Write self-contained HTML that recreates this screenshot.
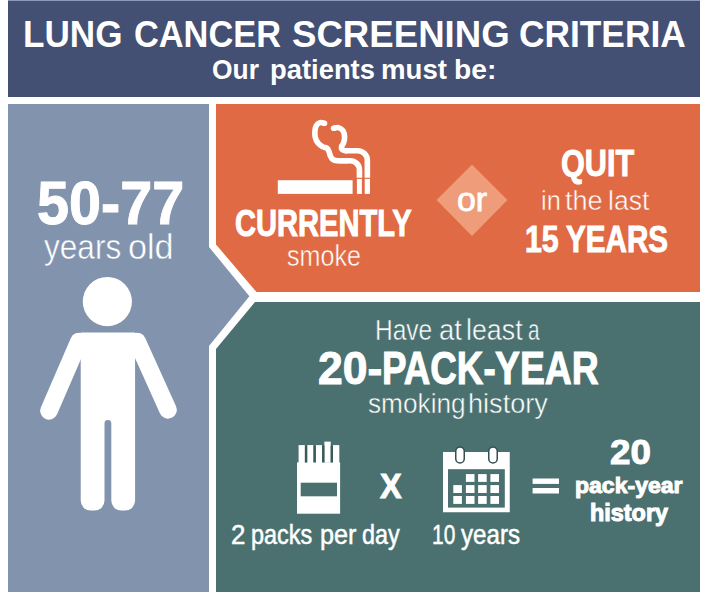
<!DOCTYPE html>
<html><head><meta charset="utf-8">
<style>
html,body{margin:0;padding:0;background:#fff;}
body{width:706px;height:600px;position:relative;overflow:hidden;font-family:"Liberation Sans",sans-serif;}
svg.bg{position:absolute;left:0;top:0;}
.t{position:absolute;white-space:nowrap;line-height:1;color:#fff;transform-origin:0 0;}
.b{font-weight:700;}
</style></head><body>
<svg class="bg" width="706" height="600" viewBox="0 0 706 600">
  <rect x="8" y="0" width="692" height="97" fill="#434f73"/>
  <rect x="8" y="0" width="692" height="1" fill="#8f98bb"/>
  <polygon points="8,104 209,104 209,247 249.4,296.3 209,346 209,592 8,592" fill="#8193ad"/>
  <polygon points="216,104 700,104 700,292 256.5,292 216,244.5" fill="#e06a43"/>
  <polygon points="255,302 700,302 700,592 216,592 216,349" fill="#4a7170"/>
  <!-- diamond -->
  <polygon points="472,164.5 507.5,200 472,236 436.5,200" fill="#ee9c7a"/>
  <!-- person -->
  <g fill="#fff">
    <circle cx="107.35" cy="301.55" r="24.6"/>
    <path d="M80.7,332.5 H135.1 V500.6 a10,10 0 0 1 -10,10 H121.3 a10,10 0 0 1 -10,-10 V423.4 a3.4,3.4 0 0 0 -6.8,0 V500.6 a10,10 0 0 1 -10,10 H90.7 a10,10 0 0 1 -10,-10 Z"/>
  </g>
  <g stroke="#fff" stroke-width="17.6" stroke-linecap="round" fill="none">
    <line x1="78.95" y1="341.5" x2="49" y2="410.8"/>
    <line x1="137.2" y1="341.5" x2="168" y2="409.8"/>
  </g>
  <!-- cigarette -->
  <g fill="#fff">
    <rect x="277.8" y="180.2" width="74.8" height="13.7"/>
    <rect x="356.9" y="178.9" width="5" height="15"/>
    <rect x="364.7" y="178.9" width="5.3" height="15"/>
  </g>
  <g stroke="#fff" stroke-width="5.6" fill="none" stroke-linecap="butt">
    <path d="M324.50,123.30 C323.75,123.18 321.37,122.22 320.00,122.60 C318.63,122.98 317.15,124.20 316.30,125.60 C315.45,127.00 315.07,129.02 314.90,131.00 C314.73,132.98 314.78,135.50 315.30,137.50 C315.82,139.50 316.80,141.48 318.00,143.00 C319.20,144.52 321.00,145.72 322.50,146.60 C324.00,147.48 325.92,147.48 327.00,148.30 C328.08,149.12 328.47,150.30 329.00,151.50 C329.53,152.70 329.62,154.22 330.20,155.50 C330.78,156.78 331.37,158.32 332.50,159.20 C333.63,160.08 334.08,160.53 337.00,160.80 C339.92,161.07 347.83,160.80 350.00,160.80 C355.3,160.8 359.45,164.6 359.45,170 L359.45,177.8"/>
    <path d="M333.60,128.20 C334.42,128.10 336.93,127.17 338.50,127.60 C340.07,128.03 341.98,129.23 343.00,130.80 C344.02,132.37 344.50,135.00 344.60,137.00 C344.70,139.00 344.10,141.25 343.60,142.80 C343.10,144.35 341.87,145.22 341.60,146.30 C341.33,147.38 341.35,148.55 342.00,149.30 C342.65,150.05 344.50,150.55 345.50,150.80 C346.50,151.05 346.00,150.80 348.00,150.80 C350.00,150.80 355.92,150.80 357.50,150.80 C363,150.8 367.35,155 367.35,160.5 L367.35,177.8"/>
  </g>
  <circle cx="324.5" cy="123.3" r="2.8" fill="#fff"/>
  <circle cx="333.6" cy="128.2" r="2.8" fill="#fff"/>
  <!-- pack -->
  <g fill="#fff">
    <rect x="297" y="462.4" width="43.1" height="51.3"/>
    <rect x="298.6" y="445.1" width="6.3" height="18"/>
    <rect x="307.2" y="445.1" width="6.3" height="18"/>
    <rect x="315.8" y="445.1" width="6.3" height="18"/>
    <rect x="324.4" y="441.6" width="6.3" height="21"/>
    <rect x="333.0" y="445.1" width="6.3" height="18"/>
  </g>
  <rect x="300.7" y="482.7" width="36.3" height="13.6" fill="#4a7170"/>
  <g fill="#3b5b5a">
    <rect x="304.9" y="445.6" width="2.3" height="16.8"/>
    <rect x="313.5" y="445.6" width="2.3" height="16.8"/>
    <rect x="322.1" y="445.6" width="2.3" height="16.8"/>
    <rect x="330.7" y="445.6" width="2.3" height="16.8"/>
  </g>
  <!-- calendar -->
  <rect x="443" y="452" width="66.75" height="60.25" fill="#fff"/>
  <rect x="448" y="469.2" width="56.8" height="38.4" fill="#4a7170"/>
  <g fill="#fff" stroke="#32504f" stroke-width="1.5">
    <rect x="455.75" y="447" width="8.5" height="16" rx="4.25"/>
    <rect x="488.75" y="447" width="8.5" height="16" rx="4.25"/>
  </g>
  <g fill="#fff">
    <rect x="465.9" y="474.1" width="8.6" height="7.8"/>
    <rect x="478.1" y="474.1" width="8.6" height="7.8"/>
    <rect x="490.4" y="474.1" width="8.6" height="7.8"/>
    <rect x="453.3" y="485.1" width="8.6" height="7.9"/>
    <rect x="465.9" y="485.1" width="8.6" height="7.9"/>
    <rect x="478.1" y="485.1" width="8.6" height="7.9"/>
    <rect x="490.4" y="485.1" width="8.6" height="7.9"/>
    <rect x="453.3" y="496" width="8.6" height="7.9"/>
    <rect x="465.9" y="496" width="8.6" height="7.9"/>
    <rect x="478.1" y="496" width="8.6" height="7.9"/>
    <rect x="490.4" y="496" width="8.6" height="7.9"/>
  </g>
  <!-- equals -->
  <g fill="#fff">
    <rect x="532.6" y="478.5" width="26.4" height="5.4"/>
    <rect x="532.6" y="488" width="26.4" height="5.5"/>
  </g>
</svg>
<div class="t b" style="left:23.49px;top:17.00px;font-size:36.60px;transform:scaleX(0.9602)">LUNG</div>
<div class="t b" style="left:134.28px;top:17.00px;font-size:36.60px;transform:scaleX(0.9393)">CANCER</div>
<div class="t b" style="left:291.78px;top:17.00px;font-size:36.60px;transform:scaleX(1.0011)">SCREENING</div>
<div class="t b" style="left:518.56px;top:17.00px;font-size:36.60px;transform:scaleX(0.9651)">CRITERIA</div>
<div class="t b" style="left:212.34px;top:56.00px;font-size:27.17px;transform:scaleX(0.9721)">Our</div>
<div class="t b" style="left:269.50px;top:56.00px;font-size:27.17px;transform:scaleX(1.0081)">patients</div>
<div class="t b" style="left:381.03px;top:56.00px;font-size:27.17px;transform:scaleX(1.0170)">must</div>
<div class="t b" style="left:454.49px;top:56.00px;font-size:27.17px;transform:scaleX(1.0387)">be:</div>
<div class="t b" style="left:36.53px;top:173.00px;font-size:60.84px;transform:scaleX(0.9460);-webkit-text-stroke:1.0px #fff">50-77</div>
<div class="t e" style="left:44.09px;top:230.00px;font-size:35.81px;transform:scaleX(0.8818);-webkit-text-stroke:0.5px #8193ad">years</div>
<div class="t e" style="left:127.99px;top:230.00px;font-size:35.81px;transform:scaleX(0.9548);-webkit-text-stroke:0.5px #8193ad">old</div>
<div class="t b" style="left:235.32px;top:206.00px;font-size:36.74px;transform:scaleX(0.7916);-webkit-text-stroke:1.0px #fff">CURRENTLY</div>
<div class="t e" style="left:286.74px;top:241.00px;font-size:29.35px;transform:scaleX(0.8567);-webkit-text-stroke:0.5px #e06a43">smoke</div>
<div class="t" style="left:456.97px;top:184.00px;font-size:32.36px;transform:scaleX(1.0484);-webkit-text-stroke:0.8px #fff">or</div>
<div class="t b" style="left:561.47px;top:145.00px;font-size:37.79px;transform:scaleX(0.8109);-webkit-text-stroke:1.0px #fff">QUIT</div>
<div class="t e" style="left:541.20px;top:187.00px;font-size:28.03px;transform:scaleX(0.9085);-webkit-text-stroke:0.5px #e06a43">in</div>
<div class="t e" style="left:565.00px;top:187.00px;font-size:28.03px;transform:scaleX(0.9682);-webkit-text-stroke:0.5px #e06a43">the</div>
<div class="t e" style="left:608.23px;top:187.00px;font-size:28.03px;transform:scaleX(0.9473);-webkit-text-stroke:0.5px #e06a43">last</div>
<div class="t b" style="left:524.58px;top:221.00px;font-size:37.20px;transform:scaleX(0.8158);-webkit-text-stroke:1.0px #fff">15</div>
<div class="t b" style="left:565.97px;top:221.00px;font-size:37.20px;transform:scaleX(0.7965);-webkit-text-stroke:1.0px #fff">YEARS</div>
<div class="t e" style="left:375.23px;top:315.00px;font-size:29.51px;transform:scaleX(0.8315);-webkit-text-stroke:0.5px #4a7170">Have</div>
<div class="t e" style="left:438.63px;top:315.00px;font-size:29.51px;transform:scaleX(0.9306);-webkit-text-stroke:0.5px #4a7170">at</div>
<div class="t e" style="left:465.68px;top:315.00px;font-size:29.51px;transform:scaleX(0.9084);-webkit-text-stroke:0.5px #4a7170">least</div>
<div class="t e" style="left:527.56px;top:315.00px;font-size:29.51px;transform:scaleX(0.7012);-webkit-text-stroke:0.5px #4a7170">a</div>
<div class="t b" style="left:317.81px;top:346.00px;font-size:45.36px;transform:scaleX(0.9806);-webkit-text-stroke:1.0px #fff">20-</div>
<div class="t b" style="left:381.74px;top:346.00px;font-size:45.36px;transform:scaleX(0.8102);-webkit-text-stroke:1.0px #fff">PACK-</div>
<div class="t b" style="left:495.41px;top:346.00px;font-size:45.36px;transform:scaleX(0.8238);-webkit-text-stroke:1.0px #fff">YEAR</div>
<div class="t e" style="left:368.38px;top:389.00px;font-size:28.56px;transform:scaleX(0.9187);-webkit-text-stroke:0.5px #4a7170">smoking</div>
<div class="t e" style="left:468.01px;top:389.00px;font-size:28.56px;transform:scaleX(0.9493);-webkit-text-stroke:0.5px #4a7170">history</div>
<div class="t b" style="left:380.35px;top:468.00px;font-size:35.93px;transform:scaleX(0.9024);-webkit-text-stroke:1.0px #fff">X</div>
<div class="t b" style="left:609.60px;top:435.00px;font-size:35.43px;transform:scaleX(1.0385);-webkit-text-stroke:1.0px #fff">20</div>
<div class="t b" style="left:575.43px;top:475.00px;font-size:22.60px;transform:scaleX(1.0189);-webkit-text-stroke:1.0px #fff">pack-year</div>
<div class="t b" style="left:590.00px;top:502.00px;font-size:23.20px;transform:scaleX(1.0093);-webkit-text-stroke:1.0px #fff">history</div>
<div class="t" style="left:231.31px;top:521.00px;font-size:27.60px;transform:scaleX(0.9400);-webkit-text-stroke:0.5px #fff">2</div>
<div class="t" style="left:250.54px;top:521.00px;font-size:27.60px;transform:scaleX(0.8507);-webkit-text-stroke:0.5px #fff">packs</div>
<div class="t" style="left:319.76px;top:521.00px;font-size:27.60px;transform:scaleX(0.9131);-webkit-text-stroke:0.5px #fff">per</div>
<div class="t" style="left:362.06px;top:521.00px;font-size:27.60px;transform:scaleX(0.8468);-webkit-text-stroke:0.5px #fff">day</div>
<div class="t" style="left:431.84px;top:521.00px;font-size:27.60px;transform:scaleX(0.7592);-webkit-text-stroke:0.5px #fff">10</div>
<div class="t" style="left:460.58px;top:521.00px;font-size:27.60px;transform:scaleX(0.8754);-webkit-text-stroke:0.5px #fff">years</div>
</body></html>
